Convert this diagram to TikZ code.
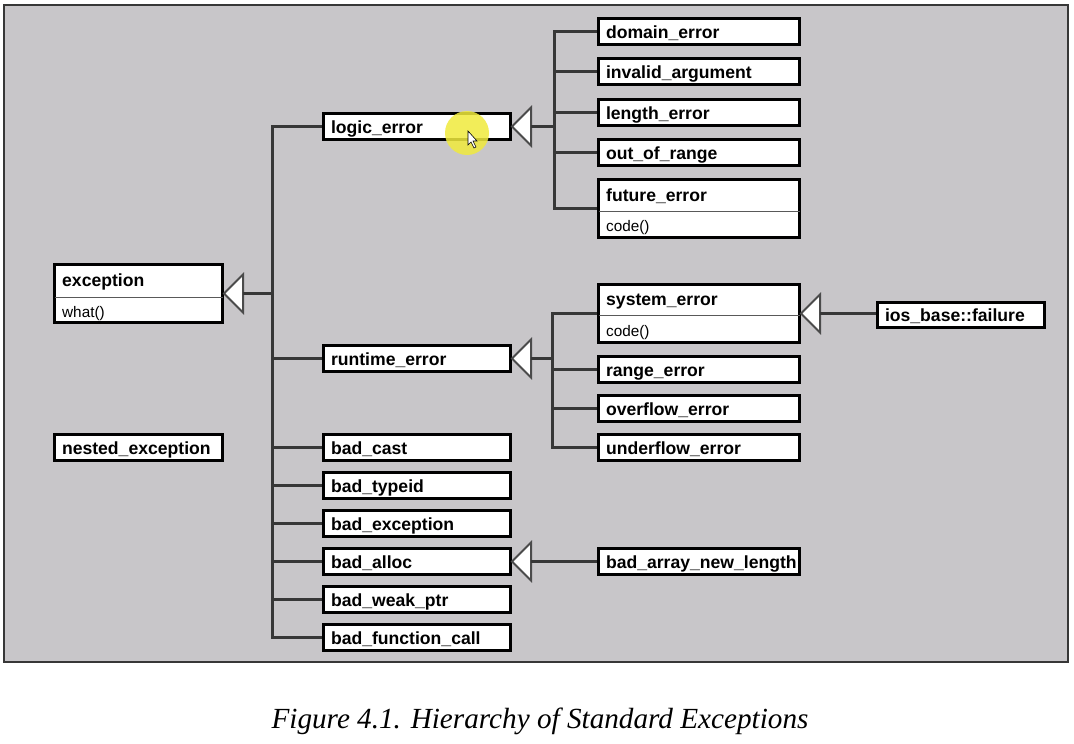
\documentclass[tikz,border=0pt]{standalone}
\usepackage{fontspec}
\setmainfont{Liberation Sans}
\newfontfamily\capfont{Liberation Serif}
\definecolor{bggray}{RGB}{200,198,201}
\definecolor{framegray}{RGB}{55,55,55}
\definecolor{conngray}{RGB}{55,55,55}
\definecolor{hilite}{RGB}{240,234,60}
\tikzset{
  cls/.style={draw=black, line width=3pt, fill=white, rectangle, inner xsep=7.5pt, inner ysep=0pt,
    font=\bfseries\fontsize{17.6}{17.6}\selectfont, text height=16pt, text depth=3pt, align=left},
  ttl/.style={inner sep=0pt, font=\bfseries\fontsize{17.6}{17.6}\selectfont, text height=16pt, text depth=3pt, anchor=west},
  meth/.style={inner sep=0pt, font=\fontsize{15.3}{15.3}\selectfont, text height=13pt, text depth=0pt, anchor=west},
  divider/.style={draw=gray!70!black, line width=0.8pt},
  conn/.style={draw=conngray, line width=3pt},
  tri/.style={draw=conngray!90, line width=2pt, fill=white, line join=miter},
}
\newcommand\classbox[6]{%
  \node[cls, text width={(#4-#2-18)*1pt}, minimum height={(#5-#3-3)*1pt}] (#1) at ({(#2+#4)/2},{(#3+#5)/2}) {#6};}
\newcommand\twobox[8]{%
  \node[cls, minimum width={(#4-#2-3)*1pt}, minimum height={(#5-#3-3)*1pt}] (#1) at ({(#2+#4)/2},{(#3+#5)/2}) {};
  \draw[divider] ({#2+1.5},#6) -- ({#4-1.5},#6);
  \node[ttl] (#1T) at ({#2+9},{(#3+#6)/2}) {#7};
  \node[meth] (#1M) at ({#2+9},{(#6+#5)/2}) {#8};}
\newcommand\inherit[2]{%
  \draw[tri] (#1.east) -- ++(19,-19) -- ++(0,38) -- cycle;
  \coordinate (#2) at ([xshift=19pt]#1.east);}
\begin{document}
\begin{tikzpicture}[x=1pt,y=-1pt]
\useasboundingbox (0,0) rectangle (1074,744);
\fill[white] (0,0) rectangle (1074,744);
\draw[line width=1.6pt, draw=framegray, fill=bggray] (4,5) rectangle (1068,662);

% left column
\twobox{exception}{53}{263}{224}{324}{297}{exception}{what()}
\classbox{nested}{53}{433}{224}{462}{nested\_exception}

% middle column
\classbox{logic}{322}{112}{512}{141}{logic\_error}
\classbox{runtime}{322}{344}{512}{373}{runtime\_error}
\classbox{badcast}{322}{433}{512}{462}{bad\_cast}
\classbox{badtypeid}{322}{471}{512}{500}{bad\_typeid}
\classbox{badexc}{322}{509}{512}{538}{bad\_exception}
\classbox{badalloc}{322}{547}{512}{576}{bad\_alloc}
\classbox{badweak}{322}{585}{512}{614}{bad\_weak\_ptr}
\classbox{badfunc}{322}{623}{512}{652}{bad\_function\_call}

% right column
\classbox{domain}{597}{17}{801}{46}{domain\_error}
\classbox{invalid}{597}{57}{801}{86}{invalid\_argument}
\classbox{length}{597}{98}{801}{127}{length\_error}
\classbox{outofrange}{597}{138}{801}{167}{out\_of\_range}
\twobox{future}{597}{178}{801}{239}{211}{future\_error}{code()}
\twobox{system}{597}{283}{801}{344}{315}{system\_error}{code()}
\classbox{range}{597}{355}{801}{384}{range\_error}
\classbox{overflow}{597}{394}{801}{423}{overflow\_error}
\classbox{underflow}{597}{433}{801}{462}{underflow\_error}
\classbox{bana}{597}{547}{801}{576}{bad\_array\_new\_length}
\classbox{ios}{876}{301}{1046}{329}{ios\_base::failure}

% trunks
\coordinate (t1) at (272,0);
\coordinate (t2) at (554,0);
\coordinate (t3) at (552,0);

% exception hierarchy
\inherit{exception}{exB}
\draw[conn] (exB) -- (exB -| t1);
\draw[conn] (logic.west) -| (badfunc.west -| t1) -- (badfunc.west);
\foreach \n in {runtime,badcast,badtypeid,badexc,badalloc,badweak}
  \draw[conn] (\n.west) -- (\n.west -| t1);

% logic_error
\inherit{logic}{logB}
\draw[conn] (logB) -- (logB -| t2);
\draw[conn] (domain.west) -| (future.west -| t2) -- (future.west);
\foreach \n in {invalid,length,outofrange}
  \draw[conn] (\n.west) -- (\n.west -| t2);

% runtime_error
\inherit{runtime}{runB}
\draw[conn] (runB) -- (runB -| t3);
\draw[conn] (system.west) -| (underflow.west -| t3) -- (underflow.west);
\foreach \n in {range,overflow}
  \draw[conn] (\n.west) -- (\n.west -| t3);

% system_error <- ios_base::failure
\inherit{system}{sysB}
\draw[conn] (sysB) -- (sysB -| ios.west);

% bad_alloc <- bad_array_new_length
\inherit{badalloc}{allocB}
\draw[conn, line width=2.2pt] (allocB) -- (bana.west);

% cursor highlight
\fill[hilite, opacity=0.85] (467,133) circle (22);
\draw[black, line width=0.6pt, fill=white] (468,131) -- (468,145) -- (471,142) -- (474,148) -- (476,147) -- (473,141) -- (477,141) -- cycle;

% caption
\node[inner sep=0pt, font=\capfont\itshape\fontsize{29.2}{29.2}\selectfont] (caption) at (540,721) {Figure 4.1. Hierarchy of Standard Exceptions};
\end{tikzpicture}
\end{document}
